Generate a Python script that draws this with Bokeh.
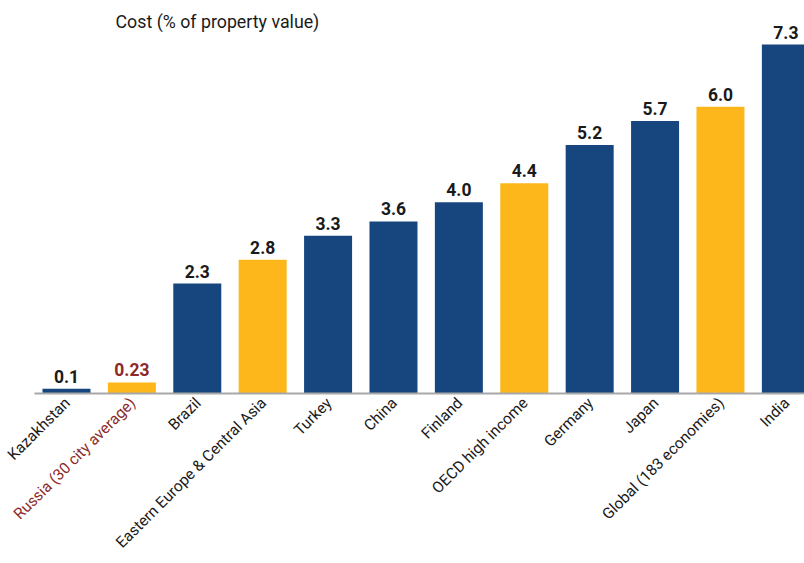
import math
from bokeh.plotting import figure
from bokeh.models import ColumnDataSource, LabelSet, Label, Range1d
from bokeh.core.properties import value
from bokeh.embed import file_html
from bokeh.resources import INLINE

categories = ["Kazakhstan", "Russia (30 city average)", "Brazil", "Eastern Europe & Central Asia",
              "Turkey", "China", "Finland", "OECD high income", "Germany", "Japan",
              "Global (183 economies)", "India"]
values = [0.1, 0.23, 2.3, 2.8, 3.3, 3.6, 4.0, 4.4, 5.2, 5.7, 6.0, 7.3]
value_labels = ["0.1", "0.23", "2.3", "2.8", "3.3", "3.6", "4.0", "4.4", "5.2", "5.7", "6.0", "7.3"]
group = ["country", "russia", "country", "region", "country", "country", "country",
         "region", "country", "country", "region", "country"]

BLUE = "#17467F"
GOLD = "#FDB71A"
RED = "#8C2A2A"
DARK = "#1A1A1A"

bar_colors = [GOLD if g in ("region", "russia") else BLUE for g in group]
label_colors = [RED if g == "russia" else DARK for g in group]

src = ColumnDataSource(dict(
    x=list(range(len(categories))),
    top=values,
    cat=categories,
    vlab=value_labels,
    bcol=bar_colors,
    lcol=label_colors,
    zero=[0] * len(categories),
))

AX_START, AX_END = -0.489, 11.285

p = figure(width=804, height=560, output_backend="svg", toolbar_location=None,
           x_range=Range1d(-1.009, AX_END), y_range=Range1d(-3.494, 8.054),
           min_border_left=0, min_border_right=0, min_border_top=8, min_border_bottom=0)

p.vbar(x="x", top="top", bottom=0, width=0.734, fill_color="bcol", line_color=None, source=src)

p.xgrid.visible = False
p.ygrid.visible = False
p.outline_line_color = None
p.yaxis.visible = False
p.xaxis.visible = False

# baseline axis line
p.segment(x0=[AX_START], y0=[0], x1=[AX_END], y1=[0], line_color="#A8A8A8", line_width=2)

vals = LabelSet(x="x", y="top", text="vlab", source=src, text_align="center",
                text_baseline="bottom", y_offset=6, text_font=value("Roboto"),
                text_font_size=value("17.5px"), text_font_style="bold", text_color="lcol")
p.add_layout(vals)

p.text(x="x", y="zero", text="cat", source=src, angle=math.pi / 4,
       text_align="right", text_baseline="middle", x_offset=1, y_offset=7,
       text_font=value("Roboto"), text_font_size=value("15.5px"), text_color="lcol")

title = Label(x=0.75, y=7.79, text="Cost (% of property value)", text_font="Roboto",
              text_font_size="17.8px", text_color=DARK, text_baseline="alphabetic")
p.add_layout(title)

open("out.html", "w").write(file_html(p, INLINE))
